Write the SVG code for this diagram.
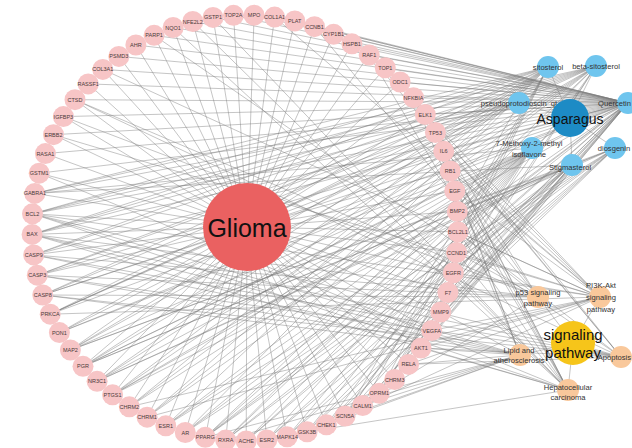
<svg xmlns="http://www.w3.org/2000/svg" width="632" height="448" viewBox="0 0 632 448">
<style>
.e{fill:none;stroke:#7a7a7a;stroke-width:0.55;stroke-opacity:0.8}
text{font-family:"Liberation Sans",Arial,sans-serif;text-anchor:middle;dominant-baseline:central}
.t circle{fill:#f7c5c6}
.t text{font-size:5.5px;fill:#4a3a3a}
.c circle{fill:#6fc5ee}
.p circle{fill:#f9c89b}
.lb{font-size:7.6px;fill:#333}
.end{text-anchor:end}
</style>
<rect width="632" height="448" fill="#ffffff"/>
<g id="connectors">
<path class="e" d="M247 227L233.5 15.3M247 227L254.1 15.2M247 227L274.6 17.1M247 227L294.8 20.9M247 227L314.5 26.7M247 227L333.6 34.3M247 227L351.9 43.8M247 227L369.2 55M247 227L385.3 67.8M247 227L400.1 82M247 227L413.5 97.7M247 227L425.3 114.6M247 227L435.4 132.5M247 227L443.7 151.3M247 227L450.2 170.9M247 227L454.8 190.9M247 227L457.3 211.4M247 227L458 231.9M247 227L456.6 252.5M247 227L453.3 272.8M247 227L447.9 292.6M247 227L440.8 311.9M247 227L431.7 330.5M247 227L421 348M247 227L408.6 364.4M247 227L394.7 379.5M247 227L379.3 393.3M247 227L362.7 405.5M247 227L345.1 416M247 227L326.4 424.8M247 227L307.1 431.8M247 227L287.1 436.8M247 227L266.8 439.9M247 227L246.2 441M247 227L225.7 440.1M247 227L205.3 437.3M247 227L185.3 432.5M247 227L165.8 425.8M247 227L147.1 417.2M247 227L129.3 406.8M247 227L112.6 394.8M247 227L97.1 381.3M247 227L83 366.3M247 227L70.4 350M247 227L59.4 332.6M247 227L50.2 314.2M247 227L42.8 295M247 227L37.3 275.2M247 227L33.7 254.9M247 227L32.1 234.4M247 227L32.5 213.8M247 227L34.8 193.4M247 227L39.2 173.2M247 227L45.4 153.6M247 227L53.5 134.7M247 227L63.4 116.6M247 227L75 99.7M247 227L88.2 83.9M247 227L102.8 69.4M247 227L118.8 56.4M247 227L135.9 45M247 227L154.1 35.3M247 227L173.1 27.5M247 227L192.8 21.5M247 227L213 17.4"/>
<path class="e" d="M628 103L233.5 15.3M628 103L254.1 15.2M628 103L274.6 17.1M628 103L294.8 20.9M628 103L314.5 26.7M628 103L333.6 34.3M628 103L351.9 43.8M628 103L369.2 55M628 103L385.3 67.8M628 103L400.1 82M628 103L413.5 97.7M628 103L425.3 114.6M628 103L435.4 132.5M628 103L443.7 151.3M628 103L450.2 170.9M628 103L454.8 190.9M628 103L458 231.9M628 103L456.6 252.5M628 103L453.3 272.8M628 103L447.9 292.6M628 103L440.8 311.9M628 103L431.7 330.5M628 103L421 348M628 103L408.6 364.4M628 103L362.7 405.5M628 103L326.4 424.8M628 103L307.1 431.8M628 103L287.1 436.8M628 103L246.2 441M628 103L185.3 432.5M628 103L165.8 425.8M628 103L205.3 437.3M628 103L112.6 394.8M628 103L83 366.3M628 103L59.4 332.6M628 103L50.2 314.2M628 103L42.8 295M628 103L37.3 275.2M628 103L33.7 254.9M628 103L32.1 234.4M628 103L32.5 213.8M628 103L39.2 173.2M628 103L45.4 153.6M628 103L53.5 134.7M628 103L63.4 116.6M628 103L75 99.7M628 103L88.2 83.9M628 103L102.8 69.4M628 103L118.8 56.4M628 103L135.9 45M628 103L154.1 35.3M628 103L173.1 27.5M628 103L192.8 21.5M628 103L213 17.4"/>
<path class="e" d="M548 67L83 366.3M548 67L97.1 381.3M548 67L147.1 417.2M548 67L129.3 406.8M548 67L112.6 394.8M548 67L345.1 416M548 67L379.3 393.3M548 67L165.8 425.8M548 67L185.3 432.5M548 67L362.7 405.5M548 67L34.8 193.4M548 67L32.5 213.8M548 67L32.1 234.4M548 67L33.7 254.9M548 67L42.8 295M548 67L50.2 314.2M548 67L70.4 350M548 67L394.7 379.5"/>
<path class="e" d="M596 66L83 366.3M596 66L97.1 381.3M596 66L147.1 417.2M596 66L129.3 406.8M596 66L112.6 394.8M596 66L379.3 393.3M596 66L32.5 213.8M596 66L32.1 234.4M596 66L37.3 275.2M596 66L33.7 254.9M596 66L42.8 295M596 66L50.2 314.2M596 66L34.8 193.4M596 66L225.7 440.1M596 66L205.3 437.3M596 66L345.1 416M596 66L394.7 379.5"/>
<path class="e" d="M572 165L83 366.3M572 165L97.1 381.3M572 165L112.6 394.8M572 165L225.7 440.1M572 165L266.8 439.9M572 165L246.2 441M572 165L205.3 437.3M572 165L34.8 193.4M572 165L394.7 379.5M572 165L362.7 405.5M572 165L70.4 350M572 165L345.1 416"/>
<path class="e" d="M615 148L83 366.3M615 148L165.8 425.8M615 148L266.8 439.9M615 148L185.3 432.5M615 148L205.3 437.3M615 148L225.7 440.1M615 148L287.1 436.8M615 148L307.1 431.8M615 148L326.4 424.8M615 148L97.1 381.3M615 148L70.4 350M615 148L457.3 211.4"/>
<path class="e" d="M532 148L112.6 394.8M532 148L165.8 425.8M532 148L266.8 439.9M532 148L185.3 432.5M532 148L205.3 437.3M532 148L225.7 440.1M532 148L287.1 436.8M532 148L307.1 431.8M532 148L326.4 424.8M532 148L246.2 441M532 148L147.1 417.2M532 148L83 366.3M532 148L34.8 193.4M532 148L97.1 381.3M532 148L345.1 416M532 148L379.3 393.3M532 148L129.3 406.8M532 148L457.3 211.4M532 148L59.4 332.6M532 148L70.4 350"/>
<path class="e" d="M519 103L50.2 314.2M519 103L37.3 275.2M519 103L32.1 234.4M519 103L59.4 332.6M519 103L70.4 350M519 103L32.5 213.8M519 103L34.8 193.4M519 103L457.3 211.4"/>
<path class="e" d="M538 297L435.4 132.5M538 297L456.6 252.5M538 297L314.5 26.7M538 297L32.1 234.4M538 297L37.3 275.2M538 297L42.8 295M538 297L33.7 254.9M538 297L326.4 424.8M538 297L63.4 116.6M538 297L75 99.7M538 297L450.2 170.9M538 297L458 231.9"/>
<path class="e" d="M600 297L421 348M600 297L453.3 272.8M600 297L454.8 190.9M600 297L431.7 330.5M600 297L443.7 151.3M600 297L456.6 252.5M600 297L32.5 213.8M600 297L458 231.9M600 297L408.6 364.4M600 297L369.2 55M600 297L307.1 431.8M600 297L50.2 314.2M600 297L435.4 132.5M600 297L274.6 17.1M600 297L102.8 69.4M600 297L53.5 134.7M600 297L147.1 417.2M600 297L129.3 406.8M600 297L450.2 170.9"/>
<path class="e" d="M621 357L32.1 234.4M621 357L32.5 213.8M621 357L458 231.9M621 357L37.3 275.2M621 357L42.8 295M621 357L33.7 254.9M621 357L154.1 35.3M621 357L435.4 132.5M621 357L421 348M621 357L408.6 364.4M621 357L413.5 97.7M621 357L75 99.7M621 357L369.2 55"/>
<path class="e" d="M520 355L421 348M520 355L32.5 213.8M520 355L32.1 234.4M520 355L37.3 275.2M520 355L42.8 295M520 355L33.7 254.9M520 355L443.7 151.3M520 355L440.8 311.9M520 355L408.6 364.4M520 355L413.5 97.7M520 355L435.4 132.5M520 355L362.7 405.5M520 355L287.1 436.8M520 355L307.1 431.8M520 355L205.3 437.3M520 355L225.7 440.1"/>
<path class="e" d="M568 390L421 348M568 390L435.4 132.5M568 390L453.3 272.8M568 390L454.8 190.9M568 390L456.6 252.5M568 390L32.1 234.4M568 390L32.5 213.8M568 390L369.2 55M568 390L450.2 170.9M568 390L173.1 27.5M568 390L192.8 21.5M568 390L213 17.4M568 390L39.2 173.2M568 390L425.3 114.6M568 390L307.1 431.8M568 390L458 231.9"/>
<path class="e" d="M570 118L548 67M570 118L596 66M570 118L519 103M570 118L628 103M570 118L532 148M570 118L615 148M570 118L572 165M573 343L538 297M573 343L600 297M573 343L621 357M573 343L520 355M573 343L568 390"/>
</g>
<g id="targets">
<g id="n-TOP2A" class="t"><circle cx="233.5" cy="15.3" r="10.5"/><text x="233.5" y="15.3">TOP2A</text></g>
<g id="n-MPO" class="t"><circle cx="254.1" cy="15.2" r="10.5"/><text x="254.1" y="15.2">MPO</text></g>
<g id="n-COL1A1" class="t"><circle cx="274.6" cy="17.1" r="10.5"/><text x="274.6" y="17.1">COL1A1</text></g>
<g id="n-PLAT" class="t"><circle cx="294.8" cy="20.9" r="10.5"/><text x="294.8" y="20.9">PLAT</text></g>
<g id="n-CCNB1" class="t"><circle cx="314.5" cy="26.7" r="10.5"/><text x="314.5" y="26.7">CCNB1</text></g>
<g id="n-CYP1B1" class="t"><circle cx="333.6" cy="34.3" r="10.5"/><text x="333.6" y="34.3">CYP1B1</text></g>
<g id="n-HSPB1" class="t"><circle cx="351.9" cy="43.8" r="10.5"/><text x="351.9" y="43.8">HSPB1</text></g>
<g id="n-RAF1" class="t"><circle cx="369.2" cy="55" r="10.5"/><text x="369.2" y="55">RAF1</text></g>
<g id="n-TOP1" class="t"><circle cx="385.3" cy="67.8" r="10.5"/><text x="385.3" y="67.8">TOP1</text></g>
<g id="n-ODC1" class="t"><circle cx="400.1" cy="82" r="10.5"/><text x="400.1" y="82">ODC1</text></g>
<g id="n-NFKBIA" class="t"><circle cx="413.5" cy="97.7" r="10.5"/><text x="413.5" y="97.7">NFKBIA</text></g>
<g id="n-ELK1" class="t"><circle cx="425.3" cy="114.6" r="10.5"/><text x="425.3" y="114.6">ELK1</text></g>
<g id="n-TP53" class="t"><circle cx="435.4" cy="132.5" r="10.5"/><text x="435.4" y="132.5">TP53</text></g>
<g id="n-IL6" class="t"><circle cx="443.7" cy="151.3" r="10.5"/><text x="443.7" y="151.3">IL6</text></g>
<g id="n-RB1" class="t"><circle cx="450.2" cy="170.9" r="10.5"/><text x="450.2" y="170.9">RB1</text></g>
<g id="n-EGF" class="t"><circle cx="454.8" cy="190.9" r="10.5"/><text x="454.8" y="190.9">EGF</text></g>
<g id="n-BMP2" class="t"><circle cx="457.3" cy="211.4" r="10.5"/><text x="457.3" y="211.4">BMP2</text></g>
<g id="n-BCL2L1" class="t"><circle cx="458" cy="231.9" r="10.5"/><text x="458" y="231.9">BCL2L1</text></g>
<g id="n-CCND1" class="t"><circle cx="456.6" cy="252.5" r="10.5"/><text x="456.6" y="252.5">CCND1</text></g>
<g id="n-EGFR" class="t"><circle cx="453.3" cy="272.8" r="10.5"/><text x="453.3" y="272.8">EGFR</text></g>
<g id="n-F7" class="t"><circle cx="447.9" cy="292.6" r="10.5"/><text x="447.9" y="292.6">F7</text></g>
<g id="n-MMP9" class="t"><circle cx="440.8" cy="311.9" r="10.5"/><text x="440.8" y="311.9">MMP9</text></g>
<g id="n-VEGFA" class="t"><circle cx="431.7" cy="330.5" r="10.5"/><text x="431.7" y="330.5">VEGFA</text></g>
<g id="n-AKT1" class="t"><circle cx="421" cy="348" r="10.5"/><text x="421" y="348">AKT1</text></g>
<g id="n-RELA" class="t"><circle cx="408.6" cy="364.4" r="10.5"/><text x="408.6" y="364.4">RELA</text></g>
<g id="n-CHRM3" class="t"><circle cx="394.7" cy="379.5" r="10.5"/><text x="394.7" y="379.5">CHRM3</text></g>
<g id="n-OPRM1" class="t"><circle cx="379.3" cy="393.3" r="10.5"/><text x="379.3" y="393.3">OPRM1</text></g>
<g id="n-CALM1" class="t"><circle cx="362.7" cy="405.5" r="10.5"/><text x="362.7" y="405.5">CALM1</text></g>
<g id="n-SCN5A" class="t"><circle cx="345.1" cy="416" r="10.5"/><text x="345.1" y="416">SCN5A</text></g>
<g id="n-CHEK1" class="t"><circle cx="326.4" cy="424.8" r="10.5"/><text x="326.4" y="424.8">CHEK1</text></g>
<g id="n-GSK3B" class="t"><circle cx="307.1" cy="431.8" r="10.5"/><text x="307.1" y="431.8">GSK3B</text></g>
<g id="n-MAPK14" class="t"><circle cx="287.1" cy="436.8" r="10.5"/><text x="287.1" y="436.8">MAPK14</text></g>
<g id="n-ESR2" class="t"><circle cx="266.8" cy="439.9" r="10.5"/><text x="266.8" y="439.9">ESR2</text></g>
<g id="n-ACHE" class="t"><circle cx="246.2" cy="441" r="10.5"/><text x="246.2" y="441">ACHE</text></g>
<g id="n-RXRA" class="t"><circle cx="225.7" cy="440.1" r="10.5"/><text x="225.7" y="440.1">RXRA</text></g>
<g id="n-PPARG" class="t"><circle cx="205.3" cy="437.3" r="10.5"/><text x="205.3" y="437.3">PPARG</text></g>
<g id="n-AR" class="t"><circle cx="185.3" cy="432.5" r="10.5"/><text x="185.3" y="432.5">AR</text></g>
<g id="n-ESR1" class="t"><circle cx="165.8" cy="425.8" r="10.5"/><text x="165.8" y="425.8">ESR1</text></g>
<g id="n-CHRM1" class="t"><circle cx="147.1" cy="417.2" r="10.5"/><text x="147.1" y="417.2">CHRM1</text></g>
<g id="n-CHRM2" class="t"><circle cx="129.3" cy="406.8" r="10.5"/><text x="129.3" y="406.8">CHRM2</text></g>
<g id="n-PTGS1" class="t"><circle cx="112.6" cy="394.8" r="10.5"/><text x="112.6" y="394.8">PTGS1</text></g>
<g id="n-NR3C1" class="t"><circle cx="97.1" cy="381.3" r="10.5"/><text x="97.1" y="381.3">NR3C1</text></g>
<g id="n-PGR" class="t"><circle cx="83" cy="366.3" r="10.5"/><text x="83" y="366.3">PGR</text></g>
<g id="n-MAP2" class="t"><circle cx="70.4" cy="350" r="10.5"/><text x="70.4" y="350">MAP2</text></g>
<g id="n-PON1" class="t"><circle cx="59.4" cy="332.6" r="10.5"/><text x="59.4" y="332.6">PON1</text></g>
<g id="n-PRKCA" class="t"><circle cx="50.2" cy="314.2" r="10.5"/><text x="50.2" y="314.2">PRKCA</text></g>
<g id="n-CASP8" class="t"><circle cx="42.8" cy="295" r="10.5"/><text x="42.8" y="295">CASP8</text></g>
<g id="n-CASP3" class="t"><circle cx="37.3" cy="275.2" r="10.5"/><text x="37.3" y="275.2">CASP3</text></g>
<g id="n-CASP9" class="t"><circle cx="33.7" cy="254.9" r="10.5"/><text x="33.7" y="254.9">CASP9</text></g>
<g id="n-BAX" class="t"><circle cx="32.1" cy="234.4" r="10.5"/><text x="32.1" y="234.4">BAX</text></g>
<g id="n-BCL2" class="t"><circle cx="32.5" cy="213.8" r="10.5"/><text x="32.5" y="213.8">BCL2</text></g>
<g id="n-GABRA1" class="t"><circle cx="34.8" cy="193.4" r="10.5"/><text x="34.8" y="193.4">GABRA1</text></g>
<g id="n-GSTM1" class="t"><circle cx="39.2" cy="173.2" r="10.5"/><text x="39.2" y="173.2">GSTM1</text></g>
<g id="n-RASA1" class="t"><circle cx="45.4" cy="153.6" r="10.5"/><text x="45.4" y="153.6">RASA1</text></g>
<g id="n-ERBB2" class="t"><circle cx="53.5" cy="134.7" r="10.5"/><text x="53.5" y="134.7">ERBB2</text></g>
<g id="n-IGFBP3" class="t"><circle cx="63.4" cy="116.6" r="10.5"/><text x="63.4" y="116.6">IGFBP3</text></g>
<g id="n-CTSD" class="t"><circle cx="75" cy="99.7" r="10.5"/><text x="75" y="99.7">CTSD</text></g>
<g id="n-RASSF1" class="t"><circle cx="88.2" cy="83.9" r="10.5"/><text x="88.2" y="83.9">RASSF1</text></g>
<g id="n-COL3A1" class="t"><circle cx="102.8" cy="69.4" r="10.5"/><text x="102.8" y="69.4">COL3A1</text></g>
<g id="n-PSMD3" class="t"><circle cx="118.8" cy="56.4" r="10.5"/><text x="118.8" y="56.4">PSMD3</text></g>
<g id="n-AHR" class="t"><circle cx="135.9" cy="45" r="10.5"/><text x="135.9" y="45">AHR</text></g>
<g id="n-PARP1" class="t"><circle cx="154.1" cy="35.3" r="10.5"/><text x="154.1" y="35.3">PARP1</text></g>
<g id="n-NQO1" class="t"><circle cx="173.1" cy="27.5" r="10.5"/><text x="173.1" y="27.5">NQO1</text></g>
<g id="n-NFE2L2" class="t"><circle cx="192.8" cy="21.5" r="10.5"/><text x="192.8" y="21.5">NFE2L2</text></g>
<g id="n-GSTP1" class="t"><circle cx="213" cy="17.4" r="10.5"/><text x="213" y="17.4">GSTP1</text></g>
</g>
<g id="n-Glioma"><circle cx="247" cy="227" r="44" fill="#ea6161"/><text x="247" y="228" font-size="25" fill="#111">Glioma</text></g>
<g id="compounds">
<g id="n-sitosterol" class="c"><circle cx="548" cy="67" r="11"/><text class="lb" x="548" y="67">sitosterol</text></g>
<g id="n-beta-sitosterol" class="c"><circle cx="596" cy="66" r="11"/><text class="lb" x="596" y="66">beta-sitosterol</text></g>
<g id="n-pseudoprotodioscin" class="c"><circle cx="519" cy="103" r="11"/><text class="lb" x="519" y="103">pseudoprotodioscin_qt</text></g>
<g id="n-quercetin" class="c"><circle cx="628" cy="103" r="11"/><text class="lb end" x="631" y="103">Quercetin</text></g>
<g id="n-methoxy" class="c"><circle cx="532" cy="148" r="11"/><text class="lb" x="529" y="143.5">7-Methoxy-2-methyl</text><text class="lb" x="529" y="154">isoflavone</text></g>
<g id="n-diosgenin" class="c"><circle cx="615" cy="148" r="11"/><text class="lb" x="614" y="148">diosgenin</text></g>
<g id="n-stigmasterol" class="c"><circle cx="572" cy="165" r="11"/><text class="lb" x="570" y="167">Stigmasterol</text></g>
<g id="n-Asparagus"><circle cx="570" cy="118" r="19" fill="#1d8bc5"/><text x="570" y="119" font-size="14" fill="#111">Asparagus</text></g>
</g>
<g id="pathways">
<g id="n-p53" class="p"><circle cx="538" cy="297" r="11"/><text class="lb" x="538" y="292.5">p53 signaling</text><text class="lb" x="538" y="303">pathway</text></g>
<g id="n-PI3K" class="p"><circle cx="600" cy="297" r="11"/><text class="lb" x="601" y="285">PI3K-Akt</text><text class="lb" x="601" y="297">signaling</text><text class="lb" x="601" y="309">pathway</text></g>
<g id="n-Apoptosis" class="p"><circle cx="621" cy="357" r="11"/><text class="lb end" x="631" y="357">Apoptosis</text></g>
<g id="n-Lipid" class="p"><circle cx="520" cy="355" r="11"/><text class="lb" x="519" y="350">Lipid and</text><text class="lb" x="519" y="360.5">atherosclerosis</text></g>
<g id="n-Hepato" class="p"><circle cx="568" cy="390" r="11"/><text class="lb" x="568" y="387">Hepatocellular</text><text class="lb" x="568" y="397.5">carcinoma</text></g>
<g id="n-signaling"><circle cx="573" cy="343" r="22" fill="#f6c51a"/><text x="573" y="334" font-size="15" fill="#111">signaling</text><text x="573" y="352" font-size="15" fill="#111">pathway</text></g>
</g>
</svg>
